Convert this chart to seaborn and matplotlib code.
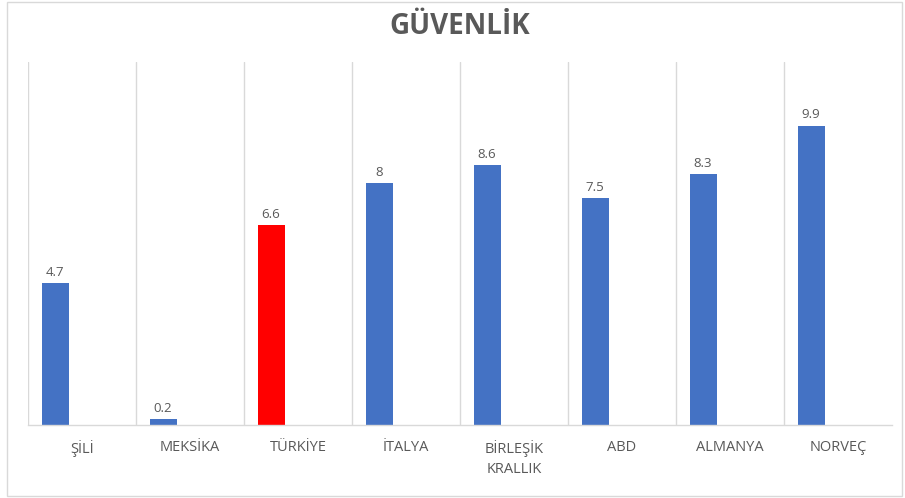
import matplotlib
matplotlib.use("Agg")
import matplotlib.pyplot as plt
import seaborn as sns
import numpy as np
import pandas as pd
from matplotlib.patches import Rectangle

# Data
countries = ["ŞİLİ", "MEKSİKA", "TÜRKİYE", "İTALYA", "BİRLEŞİK\nKRALLIK",
             "ABD", "ALMANYA", "NORVEÇ"]
values = [4.7, 0.2, 6.6, 8, 8.6, 7.5, 8.3, 9.9]
highlight = "TÜRKİYE"

# Excel-style layout: the bar sits in the left half of its slot,
# the right half belongs to an empty second series
df = pd.DataFrame({
    "ulke": countries * 2,
    "seri": ["Güvenlik"] * len(countries) + ["boş"] * len(countries),
    "deger": values + [np.nan] * len(countries),
})

blue = "#4472C4"
red = "#FF0000"
gray_text = "#595959"
gray_line = "#D9D9D9"

sns.set_style("white")
plt.rcParams["font.family"] = ["Open Sans", "DejaVu Sans"]

# We determine the plot size
fig = plt.figure(figsize=(9.05, 4.98), dpi=100)
ax = fig.add_axes([28 / 905, 1 - 425 / 498, 864 / 905, 363 / 498])

# Here, we create the plot
sns.barplot(data=df, x="ulke", y="deger", hue="seri",
            hue_order=["Güvenlik", "boş"], order=countries,
            palette={"Güvenlik": blue, "boş": blue},
            width=1.0, gap=0.5, legend=False, ax=ax)

bars = ax.containers[0]
for patch, name in zip(bars, countries):
    patch.set_facecolor(red if name == highlight else blue)
    patch.set_edgecolor("none")
ax.bar_label(bars, labels=[f"{v:g}" for v in values], padding=3,
             fontsize=9.5, color=gray_text)

ax.set_ylim(0, 12)
ax.set_xlim(-0.5, len(countries) - 0.5)
ax.set_yticks([])
ax.set_xlabel("")
ax.set_ylabel("")

# Vertical gridlines between categories
ax.set_xticks(np.arange(-0.5, len(countries) - 1, 1), minor=True)
ax.grid(which="minor", axis="x", color=gray_line, linewidth=1)
ax.tick_params(axis="x", which="both", length=0, pad=11,
               labelsize=10.5, labelcolor=gray_text)
for lab in ax.get_xticklabels():
    lab.set_linespacing(1.45)
    lab.set_verticalalignment("top")

for side in ["top", "right", "left"]:
    ax.spines[side].set_visible(False)
ax.spines["bottom"].set_color(gray_line)
ax.spines["bottom"].set_linewidth(1)

ax.set_title("GÜVENLİK", fontsize=20, fontweight="bold", color=gray_text, pad=20)

# Light chart border
fig.patches.append(Rectangle((7 / 905, 2 / 498), 895 / 905, 494 / 498,
                             transform=fig.transFigure, fill=False,
                             edgecolor=gray_line, linewidth=1))

fig.savefig("out.png", dpi=100)
